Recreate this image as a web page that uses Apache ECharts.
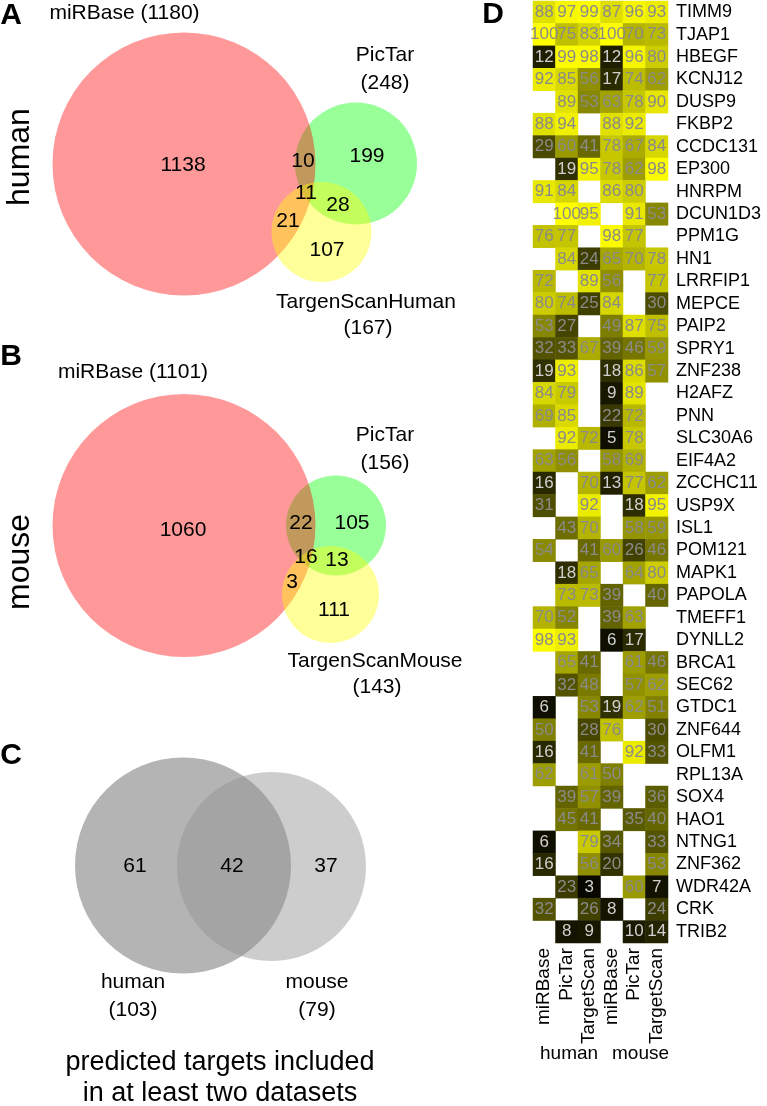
<!DOCTYPE html>
<html><head><meta charset="utf-8">
<script src="https://cdn.jsdelivr.net/npm/echarts@6/dist/echarts.min.js"></script>
<style>html,body{margin:0;padding:0;background:#fff}#c{width:767px;height:1106px}</style>
</head><body><div id="c"></div>
<script>
// ---------- DATA ----------
const genes = ['TIMM9','TJAP1','HBEGF','KCNJ12','DUSP9','FKBP2','CCDC131','EP300','HNRPM','DCUN1D3','PPM1G','HN1','LRRFIP1','MEPCE','PAIP2','SPRY1','ZNF238','H2AFZ','PNN','SLC30A6','EIF4A2','ZCCHC11','USP9X','ISL1','POM121','MAPK1','PAPOLA','TMEFF1','DYNLL2','BRCA1','SEC62','GTDC1','ZNF644','OLFM1','RPL13A','SOX4','HAO1','NTNG1','ZNF362','WDR42A','CRK','TRIB2'];
const columnLabels = ['miRBase','PicTar','TargetScan','miRBase','PicTar','TargetScan'];
const speciesLabels = ['human','mouse'];
const humanMiRBase    = [88,100,12,92,null,88,29,null,91,null,76,null,72,80,53,32,19,84,69,null,63,16,31,null,54,null,null,70,98,null,null,6,50,16,62,null,null,6,16,null,32,null];
const humanPicTar     = [97,75,99,85,89,94,60,19,84,100,77,84,null,74,27,33,93,79,85,92,56,null,null,43,null,18,73,52,93,65,32,null,null,null,null,39,45,null,null,23,null,8];
const humanTargetScan = [99,83,98,56,53,null,41,95,null,95,null,24,89,25,null,67,null,null,null,72,null,70,92,70,41,65,73,null,null,41,48,53,28,41,61,57,41,79,56,3,26,9];
const mouseMiRBase    = [87,100,12,17,63,88,78,78,86,null,98,65,56,84,49,39,18,9,22,5,58,13,null,null,60,null,39,39,6,null,null,19,76,null,50,39,null,34,20,null,8,null];
const mousePicTar     = [96,70,96,74,78,92,67,62,80,91,77,70,null,null,87,46,86,89,72,78,69,77,18,58,26,64,null,63,17,61,57,62,null,92,null,null,35,null,null,60,null,10];
const mouseTargetScan = [93,73,80,62,90,null,84,98,null,53,null,78,77,30,75,59,57,null,null,null,null,62,95,59,46,80,40,null,null,46,62,51,30,33,null,36,40,33,53,7,24,14];

const humanSetNames = ['miRBase','PicTar','TargenScanHuman'];
const humanTotals = [1180,248,167];
// regions: miR only, PicTar only, TS only, miR&Pic, miR&TS, Pic&TS, all three
const humanRegions = [1138,199,107,10,21,28,11];
const mouseSetNames = ['miRBase','PicTar','TargenScanMouse'];
const mouseTotals = [1101,156,143];
const mouseRegions = [1060,105,111,22,3,13,16];
const overlapSetNames = ['human','mouse'];
const overlapTotals = [103,79];
const overlapRegions = [61,42,37];
const overlapCaption = ['predicted targets included','in at least two datasets'];

// ---------- LAYOUT (venn geometry in page pixels) ----------
const FONT = 'Liberation Sans, Arial, Helvetica, sans-serif';
const RED='rgba(255,0,0,0.4)', GREEN='rgba(0,255,0,0.4)', YEL='rgba(255,255,0,0.4)';
const items = []; // each: {x,y,kind,...}
function circ(x,y,r,fill){items.push({x,y,kind:'circle',r,fill});}
function txt(x,y,text,size,opt){items.push(Object.assign({x,y,kind:'text',text:String(text),size},opt||{}));}

function tripleVenn(dy, names, totals, reg, side, geo){
  // circles: PicTar, miRBase, Target
  circ(geo.g[0], geo.g[1]+dy, geo.g[2], GREEN);
  circ(184, 164+dy, 131.5, RED);
  circ(geo.y[0], geo.y[1]+dy, geo.y[2], YEL);
  txt(geo.titleX, 13+dy+geo.titleDy, names[0]+' ('+totals[0]+')', 21);
  txt(385, 55+dy+geo.picDy, names[1], 21);
  txt(385, 83+dy+geo.picDy, '('+totals[1]+')', 21);
  txt(geo.tsX, geo.tsY, names[2], 21);
  txt(geo.tsX+2, geo.tsY+26, '('+totals[2]+')', 21);
  txt(20, geo.sideY, side, 32, {rot:true});
  const p = geo.nums;
  for(let i=0;i<7;i++) txt(p[i][0], p[i][1], reg[i], 21);
}
tripleVenn(0, humanSetNames, humanTotals, humanRegions, speciesLabels[0], {
  g:[356,163.5,61], y:[321.5,232,50], titleX:124.5, titleDy:0, picDy:0,
  tsX:366, tsY:302, sideY:157,
  nums:[[183,165],[367,156],[327,250],[303,161],[288,221],[338,205],[306,193]]
});
tripleVenn(361.5, mouseSetNames, mouseTotals, mouseRegions, speciesLabels[1], {
  g:[336,164,50], y:[330.5,233,48.5], titleX:133, titleDy:-2.5, picDy:18.5,
  tsX:375, tsY:661, sideY:562,
  nums:[[183,530],[352,523],[334,610],[301,523],[292,582],[337,560],[306,557]]
});
// panel C
circ(183,865.5,108,'rgb(180,180,180)');
circ(271.5,866.5,94.5,'rgba(145,145,145,0.45)');
txt(135,866,overlapRegions[0],21); txt(232,866,overlapRegions[1],21); txt(326,866,overlapRegions[2],21);
txt(133,982,overlapSetNames[0],21); txt(133,1010,'('+overlapTotals[0]+')',21);
txt(317,982,overlapSetNames[1],21); txt(317,1010,'('+overlapTotals[1]+')',21);
txt(220,1063,overlapCaption[0],27); txt(220,1094,overlapCaption[1],27);
// panel letters
txt(11,16,'A',30,{bold:true}); txt(11,357,'B',30,{bold:true}); txt(11,756,'C',30,{bold:true});
txt(493,15,'D',30,{bold:true});

// ---------- HEATMAP DATA ----------
const cols = [humanMiRBase,humanPicTar,humanTargetScan,mouseMiRBase,mousePicTar,mouseTargetScan];
const heat = [];
cols.forEach((arr,ci)=>arr.forEach((v,ri)=>{
  if(v==null) return;
  heat.push({value:[ci,ri,v], label:{color: v<20 ? '#cfcfcf' : '#8a8a8a'}});
}));

const chart = echarts.init(document.getElementById('c'), null, {renderer:'canvas'});
chart.setOption({
  animation:false,
  textStyle:{fontFamily:FONT},
  grid:[
    {left:0, top:0, width:767, height:1106, show:false},
    {left:533, top:1, width:135, height:942, show:false}
  ],
  xAxis:[
    {gridIndex:0, type:'value', min:0, max:767, show:false},
    {gridIndex:1, type:'category', data:columnLabels, position:'bottom',
     axisLine:{show:false}, axisTick:{show:false}, splitLine:{show:false},
     axisLabel:{rotate:90, interval:0, margin:5, fontSize:19, color:'#000', fontFamily:FONT}}
  ],
  yAxis:[
    {gridIndex:0, type:'value', min:0, max:1106, inverse:true, show:false},
    {gridIndex:1, type:'category', data:genes, inverse:true, position:'right',
     axisLine:{show:false}, axisTick:{show:false}, splitLine:{show:false},
     axisLabel:{interval:0, margin:8, fontSize:18, color:'#000', fontFamily:FONT}}
  ],
  visualMap:{show:false, type:'continuous', min:0, max:100, dimension:2, seriesIndex:1,
    inRange:{color:['#000000','#ffff00']}},
  series:[
    {type:'custom', xAxisIndex:0, yAxisIndex:0, coordinateSystem:'cartesian2d',
     silent:true, clip:false,
     data: items.map((it,i)=>[it.x,it.y,i]),
     renderItem:function(params, api){
       const it = items[api.value(2)];
       const p = api.coord([api.value(0), api.value(1)]);
       if(it.kind==='circle'){
         const r = api.size([it.r,0])[0];
         return {type:'circle', shape:{cx:p[0], cy:p[1], r:r}, style:{fill:it.fill, stroke:null}};
       }
       return {type:'text', x:p[0], y:p[1], rotation: it.rot ? Math.PI/2 : 0,
         style:{text:it.text, fill:'#000', fontSize:it.size, fontFamily:FONT,
           fontWeight: it.bold ? 'bold' : 'normal', align:'center', verticalAlign:'middle'}};
     }},
    {type:'heatmap', xAxisIndex:1, yAxisIndex:1, data:heat,
     label:{show:true, fontSize:17, fontFamily:FONT, formatter:p=>String(p.value[2])},
     itemStyle:{borderWidth:0}, emphasis:{disabled:true}}
  ],
  graphic:[
    {type:'text', left:568-28, top:1044, style:{text:speciesLabels[0], fontSize:19, fontFamily:FONT, fill:'#000'}},
    {type:'text', left:640-28, top:1044, style:{text:speciesLabels[1], fontSize:19, fontFamily:FONT, fill:'#000'}}
  ]
});
</script></body></html>
